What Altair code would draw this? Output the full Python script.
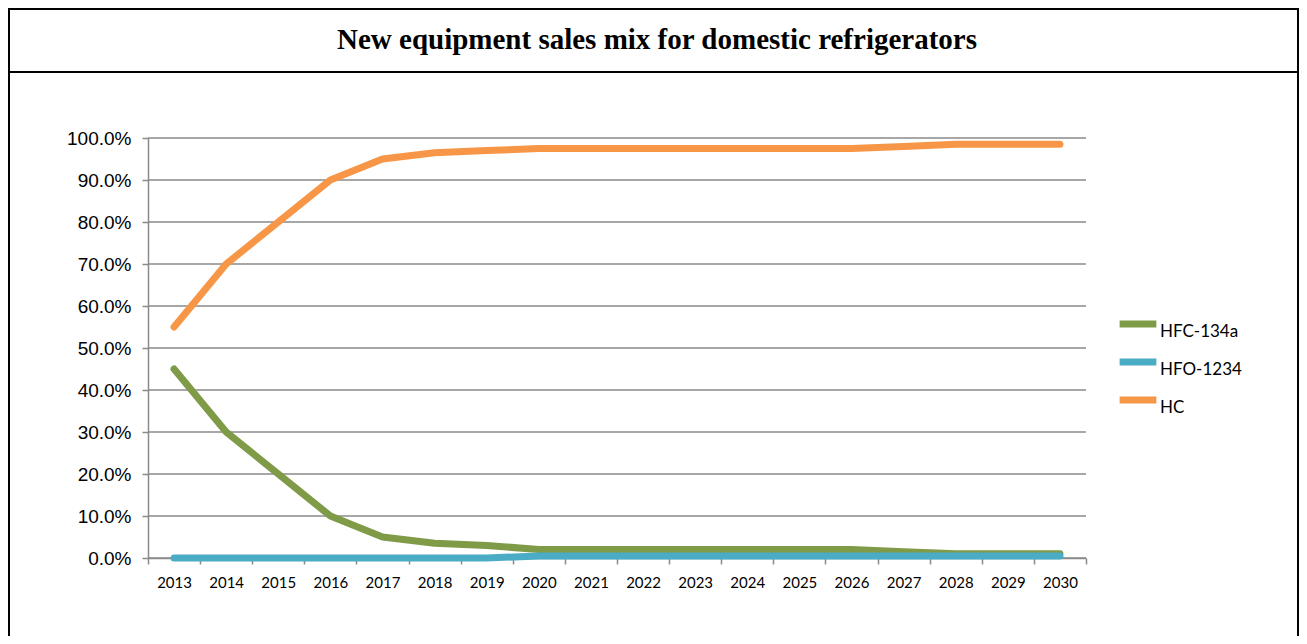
import altair as alt
import pandas as pd

title_text = "New equipment sales mix for domestic refrigerators"
years = ["2013", "2014", "2015", "2016", "2017", "2018", "2019", "2020", "2021",
         "2022", "2023", "2024", "2025", "2026", "2027", "2028", "2029", "2030"]
series_names = ["HFC-134a", "HFO-1234", "HC"]
series_colors = ["#7F9B47", "#4BACC6", "#F79646"]
hfc_134a = [0.45, 0.30, 0.20, 0.10, 0.05, 0.035, 0.03, 0.02, 0.02,
            0.02, 0.02, 0.02, 0.02, 0.02, 0.015, 0.01, 0.01, 0.01]
hfo_1234 = [0.0, 0.0, 0.0, 0.0, 0.0, 0.0, 0.0, 0.005, 0.005,
            0.005, 0.005, 0.005, 0.005, 0.005, 0.005, 0.005, 0.005, 0.005]
hc = [0.55, 0.70, 0.80, 0.90, 0.95, 0.965, 0.97, 0.975, 0.975,
      0.975, 0.975, 0.975, 0.975, 0.975, 0.98, 0.985, 0.985, 0.985]
y_ticks = [0.0, 0.1, 0.2, 0.3, 0.4, 0.5, 0.6, 0.7, 0.8, 0.9, 1.0]

rows = []
for name, vals in zip(series_names, [hfc_134a, hfo_1234, hc]):
    for yr, v in zip(years, vals):
        rows.append({"year": yr, "series": name, "value": v})
df = pd.DataFrame(rows)
grid_df = pd.DataFrame({"tick": y_ticks})

W, H = 1291, 628
X0, X1 = 140, 1078
Y0, Y1 = 550, 130

x_scale = alt.Scale(type="band", domain=years, range=[X0, X1], paddingInner=0, paddingOuter=0)
y_scale = alt.Scale(domain=[0, 1], range=[Y0, Y1], nice=False, zero=False)
color_scale = alt.Scale(domain=series_names, range=series_colors)

x_axis = alt.Axis(
    orient="bottom", offset=-(H - Y0), tickBand="extent", labelAngle=0,
    domainColor="#8A8A8A", domainWidth=1.5, tickColor="#8A8A8A", tickWidth=1.5,
    tickSize=6, labelFont="Lato", labelFontSize=15, labelColor="#000000",
    labelPadding=11, grid=False, title=None,
)
y_axis = alt.Axis(
    orient="left", offset=-X0, values=y_ticks, format=".1%",
    domainColor="#8A8A8A", domainWidth=1.5, tickColor="#8A8A8A", tickWidth=1.5,
    tickSize=6, labelFont="Liberation Sans", labelFontSize=19, labelColor="#000000",
    labelPadding=11, grid=False, title=None,
)

legend = alt.Legend(
    title=None, orient="none", legendX=1108, legendY=294, padding=0,
    symbolType="stroke", symbolStrokeWidth=7, symbolSize=1350,
    labelFont="Lato", labelFontSize=17, labelColor="#000000", labelOffset=0,
    rowPadding=0, labelBaseline="top",
)

grid = alt.Chart(grid_df).mark_rule(color="#8A8A8A", strokeWidth=1.5).encode(
    y=alt.Y("tick:Q", scale=y_scale, axis=y_axis),
    x=alt.value(X0),
    x2=alt.value(X1),
)


def line_layer(name):
    return alt.Chart(df).transform_filter(alt.datum.series == name).mark_line(
        strokeWidth=7, strokeCap="round", strokeJoin="round"
    ).encode(
        x=alt.X("year:O", scale=x_scale, bandPosition=0.5, axis=x_axis),
        y=alt.Y("value:Q", scale=y_scale, axis=y_axis),
        color=alt.Color("series:N", scale=color_scale, legend=legend),
    )


frame_left = alt.Chart().mark_rule(color="#000000", strokeWidth=2).encode(
    x=alt.value(1), y=alt.value(0), y2=alt.value(H))
frame_top = alt.Chart().mark_rule(color="#000000", strokeWidth=2).encode(
    x=alt.value(0), x2=alt.value(W), y=alt.value(1))
frame_right = alt.Chart().mark_rule(color="#000000", strokeWidth=2).encode(
    x=alt.value(W - 1), y=alt.value(0), y2=alt.value(H))
frame_div = alt.Chart().mark_rule(color="#000000", strokeWidth=2).encode(
    x=alt.value(0), x2=alt.value(W), y=alt.value(64))
title = alt.Chart(pd.DataFrame({"t": [title_text]})).mark_text(
    font="Liberation Serif", fontSize=29, fontWeight="bold", color="#000000",
    align="center", baseline="middle"
).encode(text="t:N", x=alt.value(649), y=alt.value(32))

chart = alt.layer(
    grid,
    line_layer("HFC-134a"),
    line_layer("HFO-1234"),
    line_layer("HC"),
    frame_left, frame_top, frame_right, frame_div, title,
).properties(
    width=W, height=H, padding=0, autosize=alt.AutoSizeParams(type="none")
).configure_view(strokeWidth=0).configure(background="#FFFFFF")

chart.save("out.html", embed_options={"renderer": "svg", "actions": False})
